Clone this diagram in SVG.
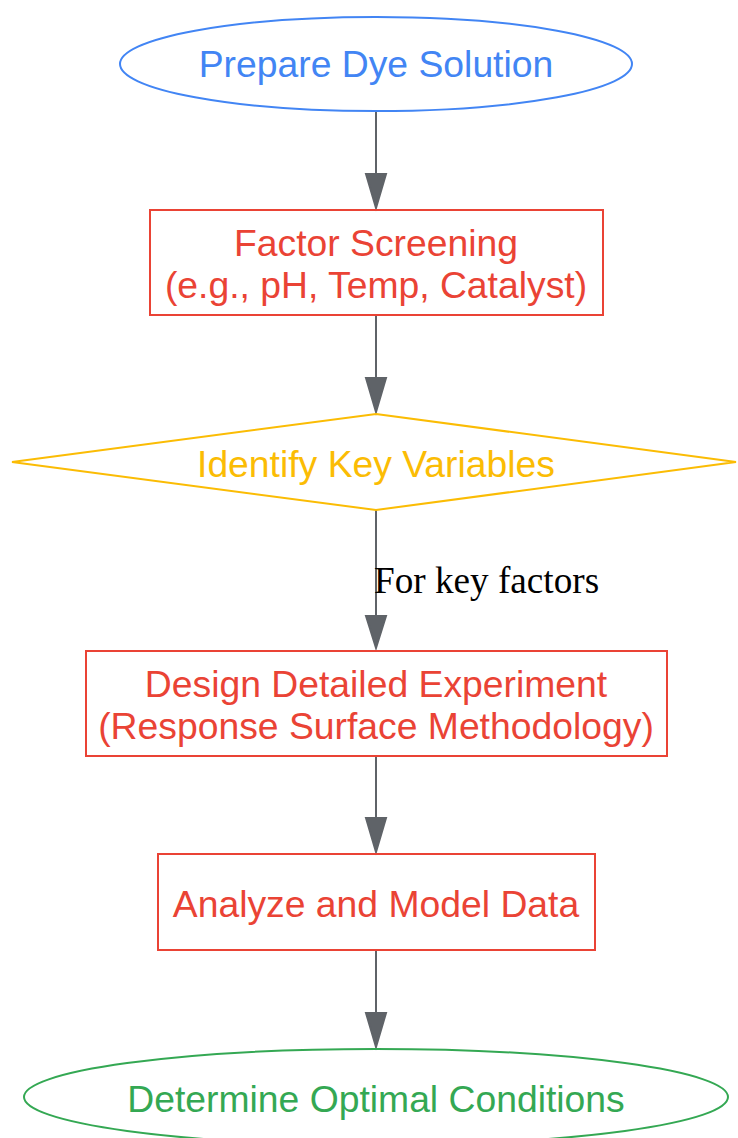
<svg xmlns="http://www.w3.org/2000/svg" width="738" height="1138" viewBox="0 0 738 1138">
<defs>
<style>
.lbl{font-family:"Liberation Sans",Arial,sans-serif;font-size:37.3px;text-anchor:middle}
.edge{stroke:#5f6368;stroke-width:2;fill:none}
.head{fill:#5f6368;stroke:#5f6368;stroke-width:2}
.elab{font-family:"Liberation Serif","Times New Roman",serif;font-size:37.2px;fill:#000}
</style>
</defs>
<rect width="738" height="1138" fill="#ffffff"/>
<g id="connectors">
<path class="edge" d="M376,111 L376,174"/>
<polygon class="head" points="366,174 376,208 386,174"/>
<path class="edge" d="M376,316 L376,378"/>
<polygon class="head" points="366,378 376,412 386,378"/>
<path class="edge" d="M376,510 L376,616"/>
<polygon class="head" points="366,616 376,648 386,616"/>
<text class="elab" x="374" y="593">For key factors</text>
<path class="edge" d="M376,756 L376,818"/>
<polygon class="head" points="366,818 376,852 386,818"/>
<path class="edge" d="M376,950 L376,1013"/>
<polygon class="head" points="366,1013 376,1047 386,1013"/>
</g>
<g id="prepare">
<ellipse cx="376" cy="64" rx="256" ry="47" fill="none" stroke="#4285f4" stroke-width="2"/>
<text class="lbl" x="376" y="77" fill="#4285f4">Prepare Dye Solution</text>
</g>
<g id="screening">
<rect x="150" y="210" width="453" height="105" fill="none" stroke="#ea4335" stroke-width="2"/>
<text class="lbl" x="376" y="256" fill="#ea4335">Factor Screening</text>
<text class="lbl" x="376" y="298" fill="#ea4335">(e.g., pH, Temp, Catalyst)</text>
</g>
<g id="identify">
<polygon points="376,414 736,462 376,510 12,462" fill="none" stroke="#fbbc04" stroke-width="2"/>
<text class="lbl" x="376" y="477" fill="#fbbc04">Identify Key Variables</text>
</g>
<g id="design">
<rect x="86" y="651" width="581" height="105" fill="none" stroke="#ea4335" stroke-width="2"/>
<text class="lbl" x="376" y="697" fill="#ea4335">Design Detailed Experiment</text>
<text class="lbl" x="376" y="739" fill="#ea4335">(Response Surface Methodology)</text>
</g>
<g id="analyze">
<rect x="158" y="854" width="437" height="96" fill="none" stroke="#ea4335" stroke-width="2"/>
<text class="lbl" x="376" y="917" fill="#ea4335">Analyze and Model Data</text>
</g>
<g id="optimal">
<ellipse cx="376" cy="1097" rx="352" ry="48" fill="none" stroke="#34a853" stroke-width="2"/>
<text class="lbl" x="376" y="1112" fill="#34a853">Determine Optimal Conditions</text>
</g>
</svg>
